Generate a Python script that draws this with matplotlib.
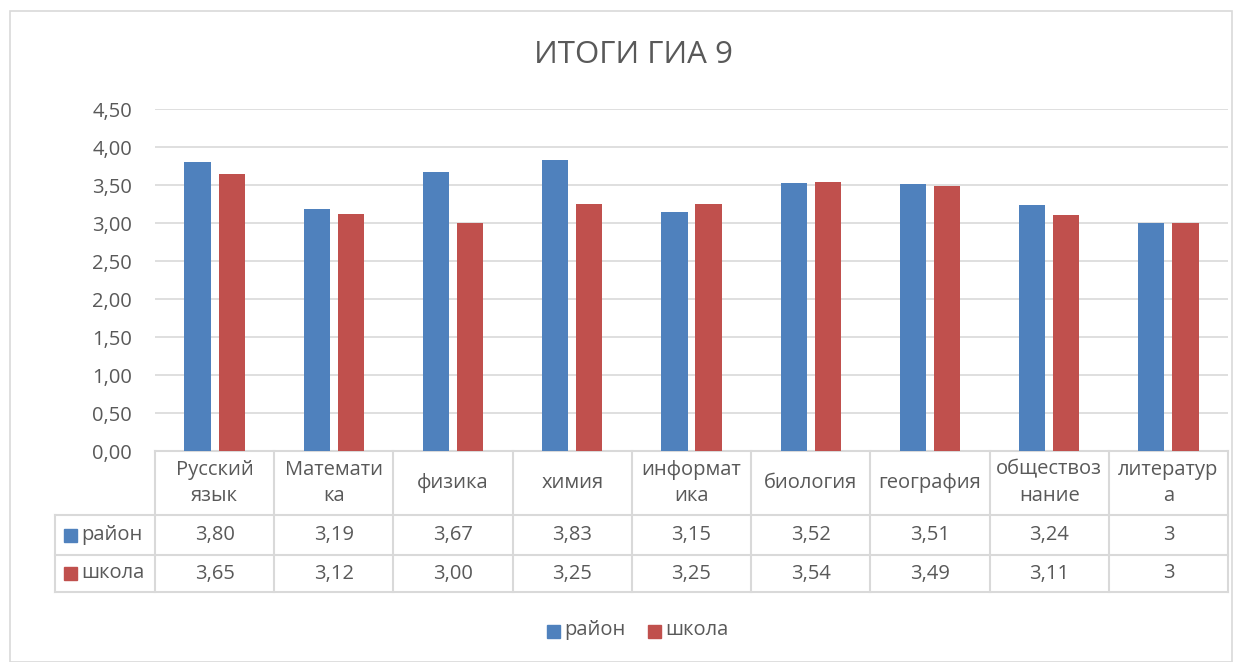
import matplotlib
matplotlib.use("Agg")
import matplotlib.pyplot as plt
from matplotlib.patches import Rectangle

plt.rcParams['font.family'] = ['Open Sans', 'DejaVu Sans']

# data
categories = ["Русский\nязык", "Математи\nка", "физика", "химия", "информат\nика",
              "биология", "география", "обществоз\nнание", "литератур\nа"]
rayon = [3.80, 3.19, 3.67, 3.83, 3.15, 3.52, 3.51, 3.24, 3]
shkola = [3.65, 3.12, 3.00, 3.25, 3.25, 3.54, 3.49, 3.11, 3]
series_names = ["район", "школа"]
yticks = [0, 0.5, 1.0, 1.5, 2.0, 2.5, 3.0, 3.5, 4.0, 4.5]

blue = "#4f81bd"
red = "#c0504d"
txt = "#595959"
gridc = "#d9d9d9"
fs = 14.5

W, H = 1240, 662
fig = plt.figure(figsize=(W / 100, H / 100), dpi=100)

# pixel layout of plot area
px_left, px_right, px_top, px_bottom = 155, 1228, 109, 451
ax = fig.add_axes([px_left / W, 1 - px_bottom / H,
                   (px_right - px_left) / W, (px_bottom - px_top) / H])

def fmt(v):
    if isinstance(v, int):
        return str(v)
    return f"{v:.2f}".replace(".", ",")

n = len(categories)
x = list(range(n))
bw = 0.22
off = 0.143
ax.bar([i - off for i in x], rayon, width=bw, color=blue, zorder=3)
ax.bar([i + off for i in x], shkola, width=bw, color=red, zorder=3)

ax.set_xlim(-0.5, n - 0.5)
ax.set_ylim(0, 4.5)
ax.set_yticks(yticks)
ax.set_yticklabels([fmt(float(t)) for t in yticks], fontsize=fs, color=txt)
ax.tick_params(axis='y', length=0, pad=16.5)
ax.set_xticks([])
ax.yaxis.grid(True, color=gridc, linewidth=1.2, zorder=0)
for s in ax.spines.values():
    s.set_visible(False)

# data table under the axis (x in data coords, y in axes fraction)
tr = ax.get_xaxis_transform()
ph = px_bottom - px_top
def yf(py):
    return -(py - px_bottom) / ph

col_w = (px_right - px_left) / n
lab_left = -0.5 - (px_left - 55) / col_w
y0, y1, y2, y3 = yf(451), yf(515), yf(555), yf(592)
lkw = dict(color=gridc, linewidth=1.5, transform=tr, clip_on=False)

ax.plot([-0.5, n - 0.5], [y0, y0], **lkw)
for yy in (y1, y2, y3):
    ax.plot([lab_left, n - 0.5], [yy, yy], **lkw)
for i in range(n + 1):
    ax.plot([i - 0.5, i - 0.5], [y0, y3], **lkw)
ax.plot([lab_left, lab_left], [y1, y3], **lkw)

for i in range(n):
    ax.text(i, (y0 + y1) / 2, categories[i], transform=tr, ha='center', va='center',
            fontsize=fs, color=txt, linespacing=1.45)
    ax.text(i, (y1 + y2) / 2, fmt(rayon[i]), transform=tr, ha='center', va='center',
            fontsize=fs, color=txt)
    ax.text(i, (y2 + y3) / 2, fmt(shkola[i]), transform=tr, ha='center', va='center',
            fontsize=fs, color=txt)

# legend keys inside table rows
sq = 13
for yy, c, name in ((535, blue, series_names[0]), (573, red, series_names[1])):
    fig.patches.append(Rectangle((64 / W, 1 - (yy + sq / 2) / H), sq / W, sq / H,
                                 color=c, transform=fig.transFigure))
    fig.text(81 / W, 1 - yy / H, name, ha='left', va='center', fontsize=fs, color=txt)

# bottom legend
for lx, c, name in ((547, blue, series_names[0]), (648, red, series_names[1])):
    fig.patches.append(Rectangle((lx / W, 1 - (631 + sq / 2) / H), sq / W, sq / H,
                                 color=c, transform=fig.transFigure))
    fig.text((lx + 17) / W, 1 - 630 / H, name, ha='left', va='center', fontsize=fs, color=txt)

# title
fig.text(633 / W, 1 - 55 / H, "ИТОГИ ГИА 9", ha='center', va='center', fontsize=22.5, color=txt)

# chart border
fig.patches.append(Rectangle((10 / W, 0.5 / H), (1222) / W, (651) / H, fill=False,
                             edgecolor=gridc, linewidth=1.2, transform=fig.transFigure))

fig.savefig("out.png", dpi=100, facecolor="white")
